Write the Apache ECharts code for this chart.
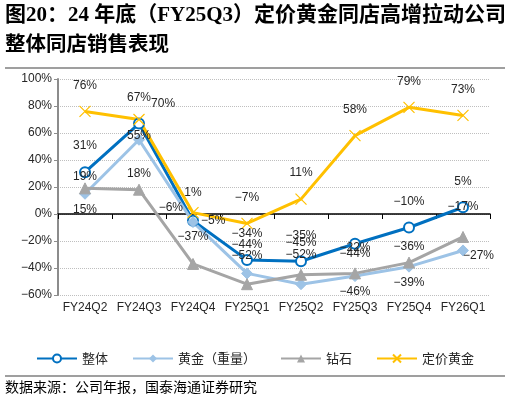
<!DOCTYPE html>
<html>
<head>
<meta charset="utf-8">
<title>整体同店销售表现</title>
<script src="https://cdn.jsdelivr.net/npm/echarts@6/dist/echarts.min.js"></script>
<style>
  html, body { margin: 0; padding: 0; background: #fff; }
  #main { width: 510px; height: 402px; }
</style>
</head>
<body>
<div id="main"></div>
<script type="text/javascript">
// 数据
var categories = ['FY24Q2', 'FY24Q3', 'FY24Q4', 'FY25Q1', 'FY25Q2', 'FY25Q3', 'FY25Q4', 'FY26Q1'];
var overall    = [31, 67, -5, -34, -35, -22, -10, 5];      // 整体
var goldWeight = [15, 55, -6, -44, -52, -46, -39, -27];    // 黄金（重量）
var diamond    = [19, 18, -37, -52, -45, -44, -36, -17];   // 钻石
var pricedGold = [76, 70, 1, -7, 11, 58, 79, 73];          // 定价黄金
var yTicks = [-60, -40, -20, 0, 20, 40, 60, 80, 100];

// 个别标签位置调整（仅样式）
var labelFix = {
    overall:    { 2: { position: 'right', distance: 2 }, 5: { position: 'inside', offset: [0, 4] } },
    goldWeight: { 1: { position: 'inside', offset: [0, -4] }, 2: { position: 'left', distance: 4, offset: [0, -14] },
                  3: { position: 'top', distance: 17 }, 4: { position: 'top', distance: 18 },
                  7: { position: 'right', distance: 0, offset: [-6, 5] } },
    diamond:    { 0: { position: 'top', distance: 0 }, 2: { position: 'top', distance: 15 },
                  3: { position: 'top', distance: 17 }, 4: { position: 'top', distance: 20 },
                  5: { position: 'top', distance: 8 }, 7: { position: 'top', distance: 18 } },
    pricedGold: { 1: { position: 'right', distance: 6, offset: [0, -16] }, 2: { position: 'top', distance: 8 } }
};

function pct(v) {
    return (v < 0 ? '\u2212' + Math.abs(v) : v) + '%';
}

function build(values, fix) {
    return values.map(function (v, i) {
        if (fix[i]) return { value: v, label: fix[i] };
        return v;
    });
}

var myChart = echarts.init(document.getElementById('main'));

var labelBase = {
    show: true,
    fontSize: 12,
    color: '#262626',
    fontFamily: 'Liberation Sans, Arial, sans-serif',
    formatter: function (p) { return pct(p.value); }
};

function lineSeries(name, values, fix, color, symbol, size, pos, dist, extra) {
    var s = {
        name: name,
        type: 'line',
        data: build(values, fix),
        symbol: symbol,
        symbolSize: size,
        lineStyle: { color: color, width: 3 },
        itemStyle: { color: color, borderColor: color },
        label: Object.assign({}, labelBase, { position: pos, distance: dist }),
        emphasis: { disabled: true },
        animation: false
    };
    if (extra) Object.assign(s.itemStyle, extra);
    return s;
}

var option = {
    backgroundColor: '#fff',
    textStyle: { fontFamily: 'Liberation Sans, Arial, sans-serif' },
    graphic: [
        { type: 'text', left: 5, top: 5,
          style: { text: '图20：24 年底（FY25Q3）定价黄金同店高增拉动公司', fontSize: 21, fontWeight: 'bold',
                   fontFamily: 'Liberation Serif, Noto Sans CJK SC', fill: '#000' } },
        { type: 'text', left: 5, top: 33,
          style: { text: '整体同店销售表现', fontSize: 20.5, fontWeight: 'bold',
                   fontFamily: 'Noto Sans CJK SC', fill: '#000' } },
        { type: 'line', shape: { x1: 5, y1: 68, x2: 505, y2: 68 },
          style: { stroke: '#7f7f7f', lineWidth: 1.5 } },
        { type: 'line', shape: { x1: 5, y1: 376, x2: 505, y2: 376 },
          style: { stroke: '#7f7f7f', lineWidth: 1.5 } },
        { type: 'text', left: 5, top: 380,
          style: { text: '数据来源：公司年报，国泰海通证券研究', fontSize: 14,
                   fontFamily: 'Noto Sans CJK SC', fill: '#000' } }
    ],
    legend: {
        top: 347,
        left: 'center',
        itemWidth: 40,
        itemHeight: 10,
        itemGap: 24,
        textStyle: { fontSize: 13, color: '#262626', fontFamily: 'Noto Sans CJK SC' },
        data: ['整体', '黄金（重量）', '钻石', '定价黄金']
    },
    grid: { left: 58, right: 20, top: 79, bottom: 107, containLabel: false },
    xAxis: {
        type: 'category',
        data: categories,
        boundaryGap: true,
        axisLine: { onZero: true, lineStyle: { color: '#000', width: 1.5 } },
        axisTick: { show: true, inside: false, length: 5, alignWithLabel: false, lineStyle: { color: '#000' } },
        axisLabel: { fontSize: 12, color: '#262626', margin: 7, interval: 0 },
        splitLine: { show: false }
    },
    yAxis: {
        type: 'value',
        min: yTicks[0],
        max: yTicks[yTicks.length - 1],
        interval: 20,
        axisLine: { show: true, lineStyle: { color: '#8c8c8c', width: 2 } },
        axisTick: { show: true, length: 4, lineStyle: { color: '#8c8c8c' } },
        axisLabel: { fontSize: 12, color: '#262626', margin: 6,
                     formatter: function (v) { return pct(v); } },
        splitLine: { show: true, lineStyle: { color: '#bfbfbf', type: 'dotted', width: 1 } }
    },
    series: [
        lineSeries('整体', overall, labelFix.overall, '#0070C0', 'emptyCircle', 10, 'top', 14,
                   { borderWidth: 2 }),
        lineSeries('黄金（重量）', goldWeight, labelFix.goldWeight, '#9DC3E6', 'diamond', 11, 'bottom', 4),
        lineSeries('钻石', diamond, labelFix.diamond, '#A5A5A5', 'triangle', 11, 'top', 4),
        lineSeries('定价黄金', pricedGold, labelFix.pricedGold, '#FFC000', 'path://M0,0L10,10M10,0L0,10', 11, 'top', 14,
                   { borderWidth: 1.2 })
    ]
};

myChart.setOption(option);
</script>
</body>
</html>
